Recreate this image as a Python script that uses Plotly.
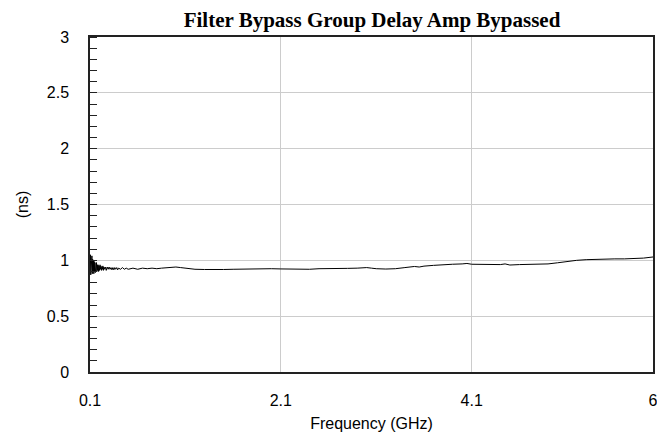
import plotly.graph_objects as go

freq_ghz = [
    0.100, 0.104, 0.108, 0.112, 0.116, 0.120, 0.124, 0.128, 0.132, 0.136,
    0.140, 0.144, 0.148, 0.152, 0.156, 0.160, 0.164, 0.168, 0.172, 0.176,
    0.180, 0.185, 0.190, 0.195, 0.200, 0.205, 0.210, 0.215, 0.220, 0.225,
    0.230, 0.235, 0.240, 0.245, 0.250, 0.26, 0.27, 0.28, 0.29,
    0.30, 0.31, 0.32, 0.33, 0.34, 0.35, 0.36, 0.37, 0.38, 0.39,
    0.40, 0.42, 0.44, 0.46, 0.48, 0.50,
    0.55, 0.60, 0.65, 0.70, 0.75, 0.80, 0.85, 0.90, 0.95, 1.00,
    1.05, 1.10, 1.15, 1.20, 1.30, 1.40, 1.50, 1.60, 1.70, 1.80,
    1.90, 2.00, 2.10, 2.20, 2.30, 2.40, 2.50, 2.60, 2.70, 2.80,
    2.90, 3.00, 3.05, 3.10, 3.20, 3.30, 3.40, 3.50, 3.55, 3.60,
    3.70, 3.80, 3.90, 4.00, 4.05, 4.10, 4.20, 4.30, 4.40, 4.45,
    4.50, 4.60, 4.70, 4.80, 4.90, 5.00, 5.10, 5.20, 5.30, 5.40,
    5.50, 5.60, 5.70, 5.80, 5.90, 6.00,
]
delay_ns = [
    0.98, 1.05, 0.87, 1.03, 0.89, 1.04, 0.88, 1.01, 0.90, 1.00,
    0.88, 0.99, 0.90, 0.98, 0.89, 0.97, 0.91, 0.98, 0.90, 0.96,
    0.91, 0.96, 0.90, 0.95, 0.91, 0.96, 0.92, 0.95, 0.91, 0.94,
    0.92, 0.95, 0.91, 0.94, 0.92, 0.94, 0.91, 0.94, 0.92,
    0.94, 0.92, 0.935, 0.915, 0.935, 0.915, 0.935, 0.92, 0.935, 0.915,
    0.93, 0.92, 0.935, 0.92, 0.93, 0.92,
    0.93, 0.92, 0.93, 0.925, 0.93, 0.925, 0.93, 0.935, 0.935, 0.94,
    0.935, 0.93, 0.925, 0.92, 0.918, 0.915, 0.918, 0.92, 0.922, 0.92,
    0.925, 0.925, 0.923, 0.92, 0.918, 0.92, 0.925, 0.928, 0.93, 0.928,
    0.93, 0.935, 0.93, 0.925, 0.922, 0.925, 0.935, 0.945, 0.94, 0.948,
    0.955, 0.962, 0.965, 0.968, 0.972, 0.965, 0.963, 0.965, 0.962, 0.968,
    0.958, 0.962, 0.962, 0.963, 0.968, 0.978, 0.99, 1.00, 1.006, 1.01,
    1.012, 1.013, 1.013, 1.015, 1.02, 1.03,
]

x_tickvals = [0.1, 2.1, 4.1, 6]
x_ticktext = ["0.1", "2.1", "4.1", "6"]
y_tickvals = [0, 0.5, 1, 1.5, 2, 2.5, 3]
y_ticktext = ["0", "0.5", "1", "1.5", "2", "2.5", "3"]

fig = go.Figure()
fig.add_trace(go.Scatter(
    x=freq_ghz, y=delay_ns, mode="lines",
    line=dict(color="black", width=1),
    showlegend=False,
))

axis_font = dict(family="Liberation Sans, Arial, sans-serif", size=16, color="black")

fig.update_layout(
    width=657, height=434,
    margin=dict(l=90, r=4, t=37, b=62),
    paper_bgcolor="white", plot_bgcolor="white",
    font=axis_font,
    title=dict(
        text="<b>Filter Bypass Group Delay Amp Bypassed</b>",
        font=dict(family="Liberation Serif, Times New Roman, serif", size=21, color="black"),
        x=372 / 657, xanchor="center", xref="container",
        y=1 - 20 / 434, yanchor="middle", yref="container",
    ),
    xaxis=dict(
        range=[0.1, 6], tickvals=x_tickvals, ticktext=x_ticktext,
        showgrid=True, gridcolor="#cccccc", gridwidth=1,
        showline=True, linecolor="#222222", linewidth=1.5, mirror=True,
        ticks="", ticklabelstandoff=13, automargin=False,
        ticklabeloverflow="allow",
        zeroline=False,
        title=dict(text="Frequency (GHz)", font=axis_font, standoff=10),
    ),
    yaxis=dict(
        range=[0, 3], tickvals=y_tickvals, ticktext=y_ticktext,
        showgrid=True, gridcolor="#cccccc", gridwidth=1,
        showline=True, linecolor="#222222", linewidth=1.5, mirror=True,
        ticks="", ticklabelstandoff=16, automargin=False,
        ticklabeloverflow="allow",
        zeroline=False,
        minor=dict(dtick=0.1, ticks="inside", ticklen=7, tickcolor="#222222",
                   tickwidth=1, showgrid=False),
        title=dict(text="(ns)", font=axis_font, standoff=14),
    ),
)

fig.write_html("out.html", config={"displayModeBar": False},
               post_script="document.body.style.margin='0';")
